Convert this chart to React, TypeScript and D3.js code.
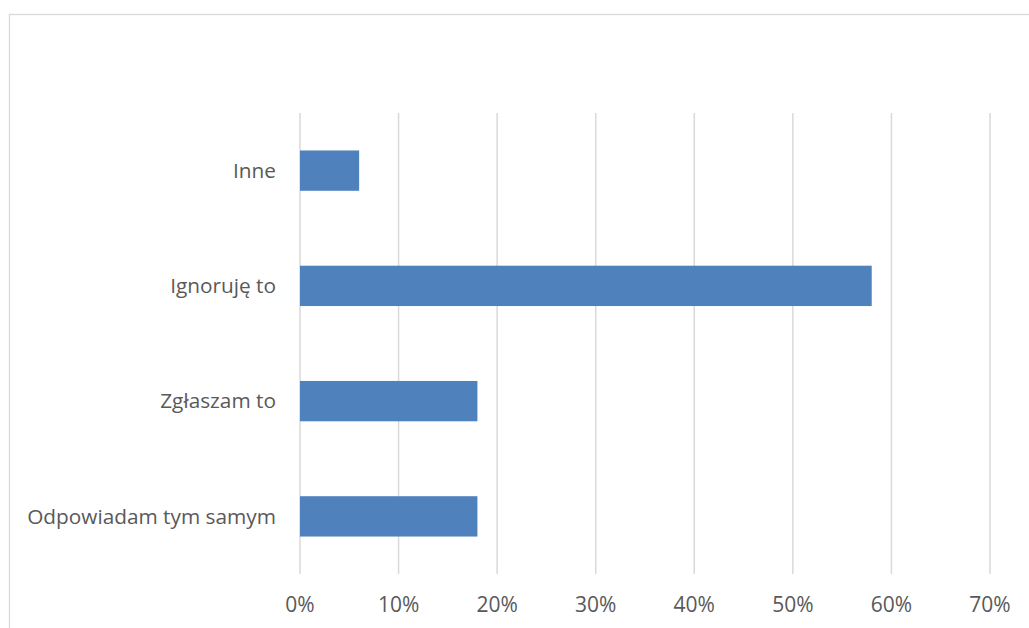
import React, { useEffect, useRef } from "react";
import * as d3 from "d3";

const categories = ["Inne", "Ignoruję to", "Zgłaszam to", "Odpowiadam tym samym"];
const values = [0.06, 0.58, 0.18, 0.18];
const tickValues = [0, 0.1, 0.2, 0.3, 0.4, 0.5, 0.6, 0.7];

const W = 1029;
const H = 628;

export default function App() {
  const ref = useRef<SVGSVGElement | null>(null);

  useEffect(() => {
    const svg = d3.select(ref.current);
    svg.selectAll("*").remove();

    const font = "'Open Sans', 'Segoe UI', sans-serif";
    const textColor = "#595959";
    const gridColor = "#D9D9D9";

    // chart border (extends beyond viewport on right/bottom)
    svg
      .append("rect")
      .attr("x", 9.5)
      .attr("y", 14.5)
      .attr("width", 1040)
      .attr("height", 640)
      .attr("fill", "white")
      .attr("stroke", gridColor)
      .attr("stroke-width", 1.3);

    const left = 300;
    const right = 990;
    const top = 113;
    const bottom = 574;

    const x = d3.scaleLinear().domain([0, 0.7]).range([left, right]);
    const y = d3
      .scaleBand<string>()
      .domain(categories)
      .range([top, bottom])
      .paddingInner(0.65)
      .paddingOuter(0.325);

    // gridlines
    svg
      .append("g")
      .selectAll("line")
      .data(tickValues)
      .join("line")
      .attr("x1", (d) => x(d))
      .attr("x2", (d) => x(d))
      .attr("y1", top)
      .attr("y2", bottom)
      .attr("stroke", gridColor)
      .attr("stroke-width", 1.5);

    // bars
    svg
      .append("g")
      .selectAll("rect")
      .data(categories)
      .join("rect")
      .attr("x", x(0))
      .attr("y", (d) => y(d)!)
      .attr("width", (d, i) => x(values[i]) - x(0))
      .attr("height", y.bandwidth())
      .attr("fill", "#4F81BD");

    // category labels
    svg
      .append("g")
      .selectAll("text")
      .data(categories)
      .join("text")
      .attr("x", left - 24)
      .attr("y", (d) => y(d)! + y.bandwidth() / 2)
      .attr("dy", "0.35em")
      .attr("text-anchor", "end")
      .attr("font-family", font)
      .attr("font-size", 20.8)
      .attr("fill", textColor)
      .text((d) => d);

    // tick labels
    const fmt = d3.format(".0%");
    svg
      .append("g")
      .selectAll("text")
      .data(tickValues)
      .join("text")
      .attr("x", (d) => x(d))
      .attr("y", 605)
      .attr("dy", "0.35em")
      .attr("text-anchor", "middle")
      .attr("font-family", font)
      .attr("font-size", 21)
      .attr("fill", textColor)
      .text((d) => fmt(d));
  }, []);

  return (
    <div style={{ position: "absolute", left: 0, top: 0, width: W, height: H, overflow: "hidden" }}>
      <svg ref={ref} width={W} height={H} style={{ display: "block", background: "white" }} />
    </div>
  );
}
